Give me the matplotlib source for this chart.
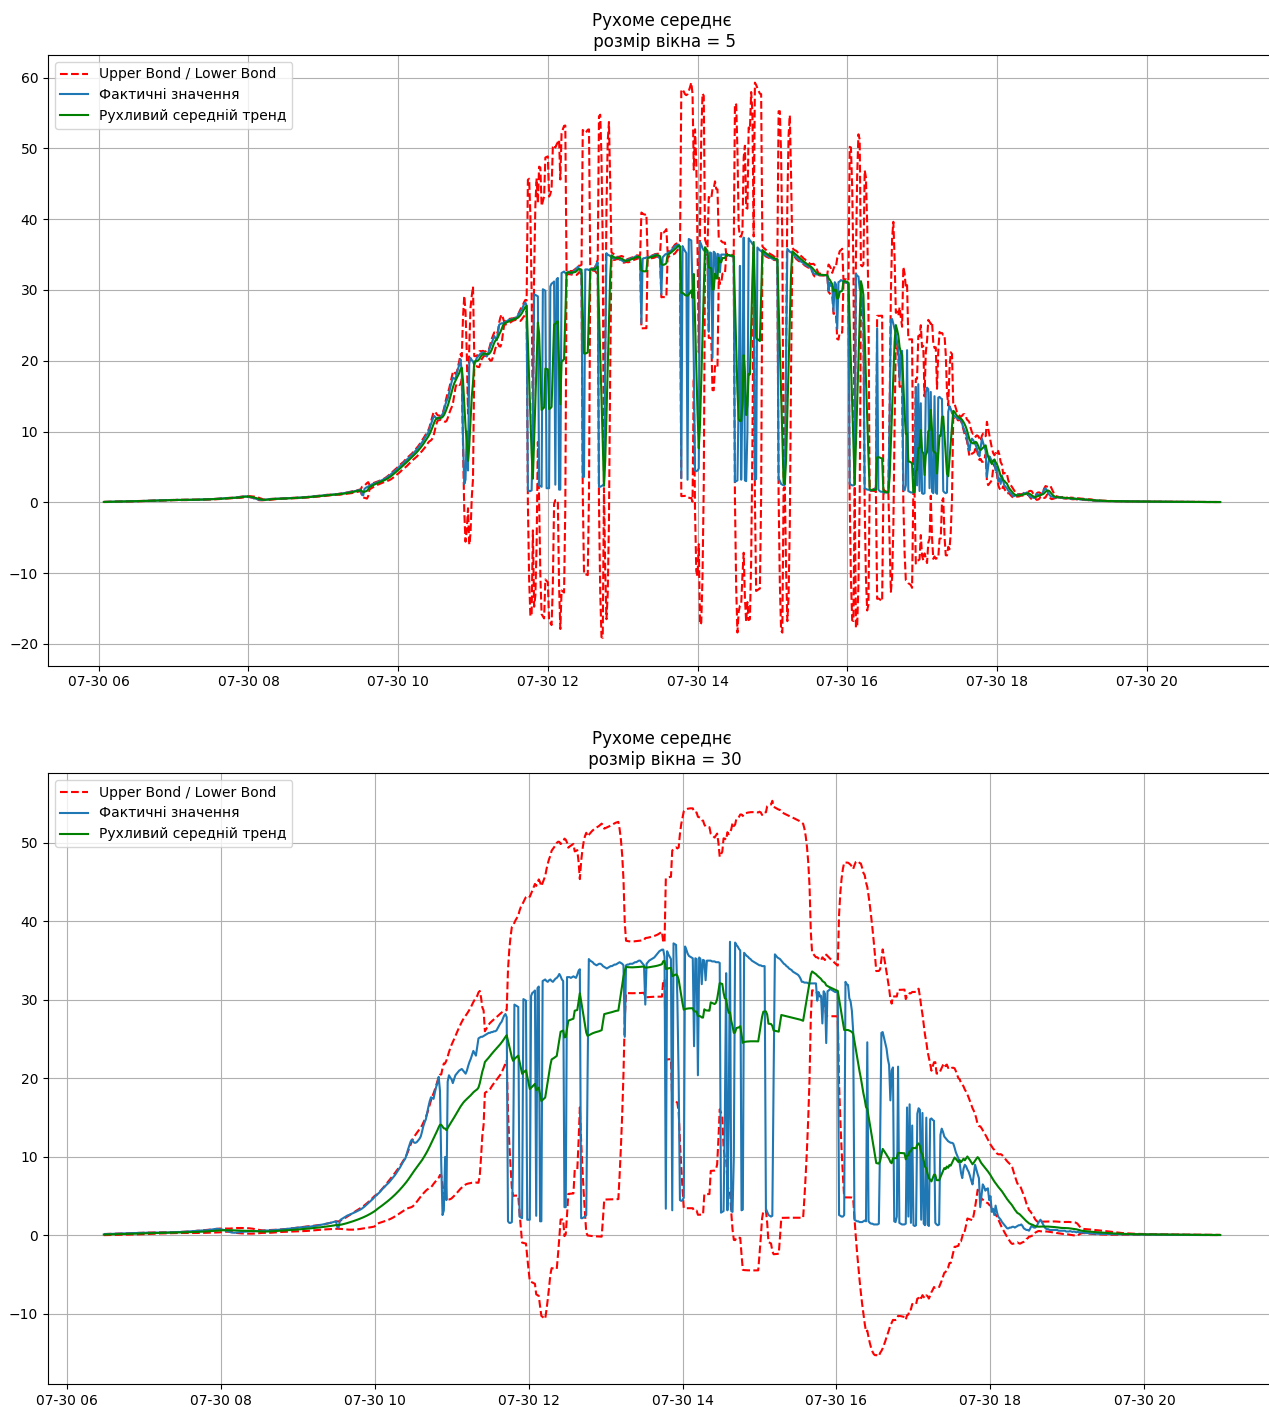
import pandas as pd
import matplotlib
matplotlib.use("Agg")
import matplotlib.pyplot as plt

# Хвилинні значення потужності 30.07 (06:00 - 20:59), по годинах
h06 = [0.05, 0.05, 0.06, 0.06, 0.07, 0.07, 0.08, 0.08, 0.08, 0.09,
       0.09, 0.10, 0.10, 0.10, 0.11, 0.11, 0.12, 0.12, 0.12, 0.13,
       0.13, 0.13, 0.14, 0.14, 0.15, 0.15, 0.15, 0.16, 0.16, 0.17,
       0.17, 0.18, 0.18, 0.19, 0.19, 0.20, 0.20, 0.21, 0.22, 0.22,
       0.23, 0.23, 0.24, 0.25, 0.26, 0.25, 0.26, 0.27, 0.28, 0.27,
       0.28, 0.29, 0.30, 0.31, 0.30, 0.31, 0.32, 0.33, 0.32, 0.33]
h07 = [0.34, 0.33, 0.35, 0.36, 0.35, 0.34, 0.33, 0.34, 0.35, 0.36,
       0.37, 0.36, 0.35, 0.36, 0.37, 0.38, 0.37, 0.36, 0.37, 0.38,
       0.39, 0.40, 0.41, 0.40, 0.41, 0.42, 0.43, 0.44, 0.43, 0.44,
       0.45, 0.46, 0.47, 0.48, 0.49, 0.50, 0.52, 0.53, 0.55, 0.54,
       0.56, 0.58, 0.60, 0.59, 0.61, 0.63, 0.62, 0.64, 0.66, 0.65,
       0.68, 0.70, 0.72, 0.75, 0.78, 0.80, 0.82, 0.85, 0.83, 0.80]
h08 = [0.78, 0.76, 0.72, 0.68, 0.62, 0.56, 0.50, 0.45, 0.40, 0.37,
       0.35, 0.34, 0.36, 0.38, 0.40, 0.42, 0.44, 0.45, 0.47, 0.48,
       0.49, 0.50, 0.51, 0.52, 0.53, 0.52, 0.54, 0.55, 0.56, 0.55,
       0.57, 0.58, 0.59, 0.60, 0.61, 0.62, 0.63, 0.62, 0.64, 0.65,
       0.66, 0.67, 0.68, 0.70, 0.71, 0.72, 0.74, 0.75, 0.77, 0.78,
       0.80, 0.82, 0.84, 0.85, 0.87, 0.89, 0.90, 0.92, 0.94, 0.96]
h09 = [0.98, 1.00, 1.02, 1.05, 1.03, 1.06, 1.08, 1.10, 1.12, 1.10,
       1.13, 1.15, 1.18, 1.20, 1.22, 1.25, 1.28, 1.30, 1.33, 1.36,
       1.40, 1.44, 1.48, 1.52, 1.55, 1.58, 1.62, 1.66, 1.70, 1.75,
       1.80, 1.05, 1.00, 1.90, 2.05, 2.15, 2.25, 2.35, 2.45, 2.55,
       2.60, 2.68, 2.75, 2.82, 2.90, 2.97, 3.05, 3.12, 3.20, 3.30,
       3.40, 3.52, 3.65, 3.80, 3.95, 4.10, 4.25, 4.40, 4.55, 4.70]
h10 = [4.9, 5.05, 5.2, 5.35, 5.5, 5.7, 5.9, 6.05, 6.2, 6.4,
       6.55, 6.7, 6.9, 7.1, 7.3, 7.5, 7.7, 7.95, 8.2, 8.45,
       8.7, 9.0, 9.3, 9.55, 9.8, 10.3, 10.9, 11.4, 11.9, 12.2,
       12.0, 11.8, 11.8, 11.9, 12.1, 12.3, 12.6, 13.2, 13.9, 14.4,
       14.8, 15.6, 16.4, 17.1, 17.6, 17.5, 17.4, 18.2, 18.9, 19.4,
       20.2, 18.4, 9.0, 2.6, 3.2, 10.0, 4.5, 19.6, 20.4, 20.1]
h11 = [19.9, 19.4, 19.9, 20.4, 20.6, 20.8, 21.0, 21.1, 21.2, 21.0,
       20.8, 20.6, 21.0, 21.6, 22.1, 22.5, 23.0, 23.5, 23.2, 22.9,
       24.0, 25.1, 25.2, 25.3, 25.3, 25.4, 25.5, 25.6, 25.7, 25.8,
       25.8, 25.9, 25.9, 26.0, 26.0, 26.1, 26.4, 26.7, 27.0, 27.2,
       27.6, 28.0, 28.2, 27.8, 1.8, 1.6, 1.6, 1.7, 10.0, 29.4,
       29.3, 29.2, 29.1, 2.4, 2.3, 2.2, 30.1, 30.0, 29.9, 2.0]
h12 = [2.0, 2.0, 30.5, 30.9, 31.0, 31.2, 2.5, 31.5, 31.7, 1.8,
       1.8, 32.4, 32.5, 32.6, 32.4, 32.3, 32.5, 32.6, 32.4, 32.3,
       32.5, 32.7, 32.8, 33.0, 33.3, 33.0, 32.6, 32.4, 3.6, 3.6,
       32.9, 32.9, 32.9, 32.8, 32.9, 33.0, 32.9, 32.8, 33.2, 33.7,
       33.9, 2.2, 2.2, 2.3, 2.4, 2.6, 20.0, 35.2, 35.0, 34.9,
       34.8, 34.6, 34.5, 34.4, 34.5, 34.6, 34.6, 34.5, 34.3, 34.2]
h13 = [34.1, 34.0, 34.1, 34.2, 34.3, 34.3, 34.4, 34.5, 34.5, 34.6,
       34.7, 34.8, 34.7, 34.6, 34.4, 25.3, 34.4, 34.5, 34.5, 34.6,
       34.6, 34.6, 34.7, 34.8, 34.8, 34.9, 35.0, 35.0, 34.8, 34.6,
       34.4, 29.4, 34.6, 34.8, 35.0, 35.1, 35.2, 35.3, 35.4, 35.6,
       35.8, 36.0, 36.2, 36.3, 36.4, 36.4, 35.5, 3.4, 36.2, 35.8,
       35.5, 35.2, 3.2, 37.2, 37.1, 37.0, 30.0, 20.0, 4.5, 4.4]
h14 = [4.5, 4.8, 36.8, 36.4, 35.9, 35.6, 35.5, 35.4, 35.3, 24.1,
       35.3, 35.2, 20.4, 35.4, 35.2, 32.0, 35.1, 35.0, 32.5, 35.0,
       35.0, 35.0, 35.0, 34.9, 34.9, 34.9, 34.8, 34.8, 34.8, 34.7,
       2.9, 3.0, 3.1, 15.0, 33.4, 3.2, 15.0, 37.4, 3.1, 3.0,
       10.0, 37.3, 37.0, 36.8, 36.5, 36.3, 3.2, 3.3, 36.0, 35.8,
       35.6, 35.5, 35.3, 35.2, 35.0, 34.9, 34.8, 34.7, 34.6, 34.5]
h15 = [34.4, 34.4, 34.3, 34.3, 34.3, 3.4, 3.0, 2.6, 2.5, 2.4,
       2.5, 20.0, 35.8, 35.6, 35.4, 35.3, 35.2, 35.0, 34.8, 34.6,
       34.5, 34.3, 34.2, 34.0, 33.9, 33.8, 33.6, 33.5, 33.4, 33.3,
       33.2, 33.0, 32.7, 32.3, 32.3, 32.2, 32.2, 32.2, 32.1, 32.1,
       32.1, 32.1, 32.1, 32.1, 32.1, 29.9, 31.0, 30.6, 30.5, 27.0,
       31.1, 30.8, 24.5, 31.1, 31.2, 31.4, 31.3, 31.2, 31.1, 31.0]
h16 = [31.0, 30.9, 2.6, 2.5, 2.4, 2.4, 2.6, 32.3, 32.0, 31.9,
       30.2, 29.8, 28.6, 26.0, 2.0, 1.9, 1.8, 1.8, 1.7, 1.7,
       1.7, 1.8, 1.9, 1.8, 24.6, 1.8, 1.6, 1.5, 1.5, 1.4,
       1.4, 1.4, 1.4, 1.5, 12.0, 25.8, 25.9, 25.2, 24.5, 23.8,
       22.5, 21.7, 17.2, 21.0, 21.4, 1.8, 1.7, 2.4, 21.5, 1.6,
       1.5, 1.4, 1.4, 1.4, 1.5, 16.3, 2.4, 16.7, 1.6, 14.0]
h17 = [1.3, 1.2, 1.3, 15.5, 16.2, 16.0, 2.0, 15.6, 1.5, 1.3,
       15.0, 1.4, 1.2, 14.8, 14.9, 14.7, 14.6, 1.6, 1.4, 1.3,
       1.4, 12.8, 13.6, 13.2, 12.6, 12.4, 12.2, 12.0, 11.9, 11.8,
       11.8, 11.7, 11.2, 10.6, 10.2, 9.8, 9.2, 8.0, 7.3, 8.5,
       9.0, 8.8, 8.4, 8.1, 7.6, 7.0, 6.5, 7.8, 9.0, 8.4,
       7.8, 7.3, 3.6, 5.0, 6.5, 6.2, 5.7, 5.9, 6.0, 4.5]
h18 = [5.0, 3.0, 3.4, 2.6, 3.8, 3.0, 2.4, 2.2, 2.0, 1.7,
       1.5, 1.3, 1.1, 0.9, 0.9, 1.0, 1.0, 1.1, 1.1, 1.0,
       1.1, 1.2, 1.3, 1.3, 1.4, 1.2, 0.9, 0.8, 0.7, 0.7,
       0.6, 0.9, 1.2, 1.1, 1.0, 1.0, 1.2, 1.5, 1.8, 2.0,
       1.7, 1.4, 1.1, 0.9, 0.8, 0.8, 0.7, 0.7, 0.7, 0.7,
       0.7, 0.7, 0.7, 0.6, 0.6, 0.6, 0.6, 0.6, 0.6, 0.5]
h19 = [0.50, 0.50, 0.55, 0.50, 0.45, 0.50, 0.45, 0.40, 0.45, 0.40,
       0.40, 0.35, 0.40, 0.35, 0.30, 0.30, 0.30, 0.28, 0.26, 0.25,
       0.24, 0.23, 0.22, 0.22, 0.21, 0.20, 0.20, 0.19, 0.19, 0.18,
       0.18, 0.18, 0.17, 0.17, 0.17, 0.16, 0.16, 0.16, 0.15, 0.15,
       0.15, 0.15, 0.14, 0.14, 0.14, 0.14, 0.13, 0.13, 0.13, 0.13,
       0.13, 0.12, 0.12, 0.12, 0.12, 0.12, 0.12, 0.11, 0.11, 0.11]
h20 = [0.11, 0.11, 0.11, 0.10, 0.10, 0.10, 0.10, 0.10, 0.10, 0.10,
       0.09, 0.09, 0.09, 0.09, 0.09, 0.09, 0.09, 0.09, 0.08, 0.08,
       0.08, 0.08, 0.08, 0.08, 0.08, 0.08, 0.08, 0.07, 0.07, 0.07,
       0.07, 0.07, 0.07, 0.07, 0.07, 0.07, 0.07, 0.06, 0.06, 0.06,
       0.06, 0.06, 0.06, 0.06, 0.06, 0.06, 0.06, 0.06, 0.05, 0.05,
       0.05, 0.05, 0.05, 0.05, 0.05, 0.05, 0.05, 0.05, 0.05, 0.05]

hours = [h06, h07, h08, h09, h10, h11, h12, h13, h14, h15, h16, h17, h18, h19, h20]
values = [v for h in hours for v in h]
series = pd.Series(values, index=pd.date_range("2023-07-30 06:00", periods=len(values), freq="min"))

windows = [5, 30]
scale = 1.96


def plot_moving_average(ax, series, window, scale=1.96):
    """Ковзне середнє з довірчими межами (середнє +- scale * std)."""
    rolling_mean = series.rolling(window=window).mean()
    rolling_std = series.rolling(window=window).std()
    upper_bond = rolling_mean + scale * rolling_std
    lower_bond = rolling_mean - scale * rolling_std

    ax.set_title("Рухоме середнє\n розмір вікна = {}".format(window))
    ax.plot(upper_bond.index, upper_bond.values, "r--", label="Upper Bond / Lower Bond")
    ax.plot(lower_bond.index, lower_bond.values, "r--")
    actual = series[window:]
    ax.plot(actual.index, actual.values, label="Фактичні значення")
    ax.plot(rolling_mean.index, rolling_mean.values, "g", label="Рухливий середній тренд")
    ax.legend(loc="upper left")
    ax.grid(True)


fig = plt.figure(figsize=(12.69, 14.07), dpi=100)
# праву межу осей трохи винесено за край полотна
ax_top = fig.add_axes([0.0378, 0.527, 0.9677, 0.434])
ax_bottom = fig.add_axes([0.0378, 0.0163, 0.9677, 0.4343])

plot_moving_average(ax_top, series, windows[0], scale)
plot_moving_average(ax_bottom, series, windows[1], scale)

fig.savefig("out.png", dpi=100)
